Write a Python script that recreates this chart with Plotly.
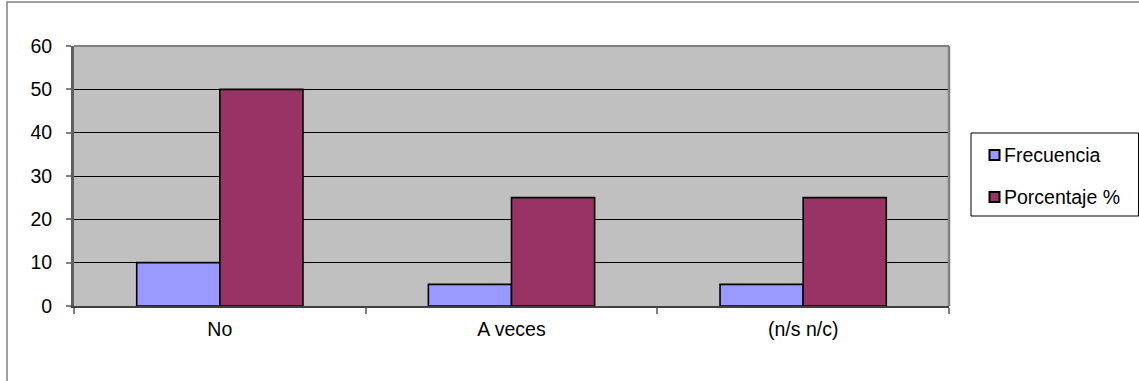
import plotly.graph_objects as go

categories = ["No", "A veces", "(n/s n/c)"]
series_names = ["Frecuencia", "Porcentaje %"]
frecuencia = [10, 5, 5]
porcentaje = [50, 25, 25]
y_ticks = [0, 10, 20, 30, 40, 50, 60]

colors = ["#9999FF", "#993366"]
values = [frecuencia, porcentaje]

W, H = 1139, 381
L, R, T, B = 74, 190, 46, 75
pw, ph = W - L - R, H - T - B

def px_x(x):
    return (x - L) / pw

def px_y(y):
    return (H - B - y) / ph

FONT = "Liberation Sans, Arial, sans-serif"
FS = 19.5

fig = go.Figure()
for name, vals, col in zip(series_names, values, colors):
    fig.add_trace(go.Bar(
        x=categories, y=vals, name=name,
        marker=dict(color=col, line=dict(color="black", width=1.6)),
        showlegend=False,
    ))

shapes = [
    dict(type="rect", xref="paper", yref="paper",
         x0=px_x(7), x1=px_x(1300), y0=px_y(420), y1=px_y(2),
         line=dict(color="#808080", width=1.5), fillcolor="rgba(0,0,0,0)", layer="below"),
    dict(type="line", xref="paper", yref="paper", x0=0, x1=1, y0=1, y1=1,
         line=dict(color="#808080", width=2), layer="above"),
    dict(type="line", xref="paper", yref="paper", x0=1, x1=1, y0=0, y1=1,
         line=dict(color="#808080", width=2.5), layer="above"),
    dict(type="rect", xref="paper", yref="paper",
         x0=px_x(971), x1=px_x(1138.5), y0=px_y(216), y1=px_y(133),
         line=dict(color="black", width=1), fillcolor="white", layer="above"),
]
annotations = []
leg_y = [155, 197]
for name, col, yy in zip(series_names, colors, leg_y):
    shapes.append(dict(type="rect", xref="paper", yref="paper",
                       x0=px_x(989.5), x1=px_x(999.5), y0=px_y(yy + 5), y1=px_y(yy - 5),
                       line=dict(color="black", width=2), fillcolor=col, layer="above"))
    annotations.append(dict(xref="paper", yref="paper", x=px_x(1002), y=px_y(yy),
                            text=name, showarrow=False, xanchor="left", yanchor="middle",
                            font=dict(family=FONT, size=FS, color="black")))

fig.update_layout(
    width=W, height=H,
    margin=dict(l=L, r=R, t=T, b=B),
    paper_bgcolor="white",
    plot_bgcolor="#C0C0C0",
    barmode="group",
    bargap=0.43,
    bargroupgap=0,
    showlegend=False,
    font=dict(family=FONT, size=FS, color="black"),
    shapes=shapes,
    annotations=annotations,
    xaxis=dict(
        type="category",
        showgrid=False,
        showline=True, linecolor="#404040", linewidth=2,
        ticks="outside", tickson="boundaries", ticklen=6, tickcolor="#808080", tickwidth=2,
        tickfont=dict(family=FONT, size=FS, color="black"),
        ticklabelstandoff=5,
    ),
    yaxis=dict(
        range=[0, 60],
        tickvals=y_ticks,
        showgrid=True, gridcolor="black", gridwidth=1,
        zeroline=False,
        showline=True, linecolor="#606060", linewidth=3,
        ticks="outside", ticklen=5, tickcolor="#808080", tickwidth=1.5,
        tickfont=dict(family=FONT, size=FS, color="black"),
        ticklabelstandoff=10,
    ),
)

fig.write_html("out.html")
